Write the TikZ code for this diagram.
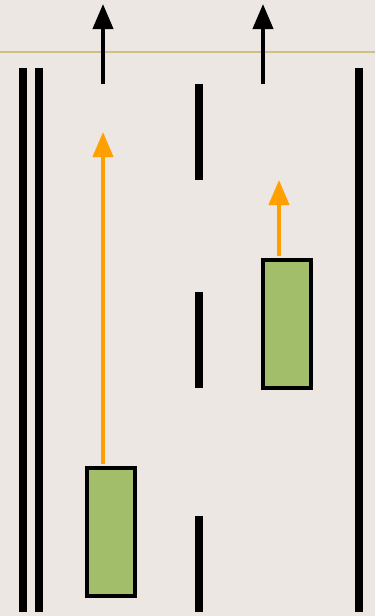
\documentclass[tikz,border=0pt]{standalone}
\usepackage{tikz}
\usetikzlibrary{arrows.meta}

\definecolor{roadbg}{HTML}{ECE7E2}
\definecolor{stopline}{HTML}{CFBF86}
\definecolor{carfill}{HTML}{A3BE6B}
\definecolor{goorange}{HTML}{FF9F00}

\begin{document}
\begin{tikzpicture}[x=1pt,y=-1pt,
  lane/.style={line width=8pt},
  car/.style={rectangle,draw=black,fill=carfill,line width=4pt,minimum width=48pt,minimum height=128pt,inner sep=0pt},
  exitarrow/.style={-{Triangle[length=25pt,width=20pt]},line width=4pt,black},
  gorange/.style={-{Triangle[length=25pt,width=20pt]},line width=4pt,goorange}]
  \fill[roadbg] (0,0) rectangle (375,616);
  \useasboundingbox (0,0) rectangle (375,616);
  \draw[stopline,line width=1.5pt] (0,52) -- (375,52);
  % road edges and lane marks
  \draw[lane] (23,68) -- (23,612);
  \draw[lane] (39,68) -- (39,612);
  \draw[lane] (359,68) -- (359,612);
  \draw[lane] (199,84) -- (199,180);
  \draw[lane] (199,292) -- (199,388);
  \draw[lane] (199,516) -- (199,612);
  % lane directions
  \coordinate (exit1s) at (103,84);
  \coordinate (exit1) at (103,4);
  \coordinate (exit2s) at (263,84);
  \coordinate (exit2) at (263,4);
  \draw[exitarrow] (exit1s) -- (exit1);
  \draw[exitarrow] (exit2s) -- (exit2);
  % cars
  \node[car] (car1) at (111,532) {};
  \node[car] (car2) at (287,323.5) {};
  \coordinate (goal1) at (103,132);
  \coordinate (goal2) at (279,180);
  \draw[gorange] ([yshift=2pt]car1.north -| goal1) -- (goal1);
  \draw[gorange] ([yshift=2pt]car2.north -| goal2) -- (goal2);
\end{tikzpicture}
\end{document}
